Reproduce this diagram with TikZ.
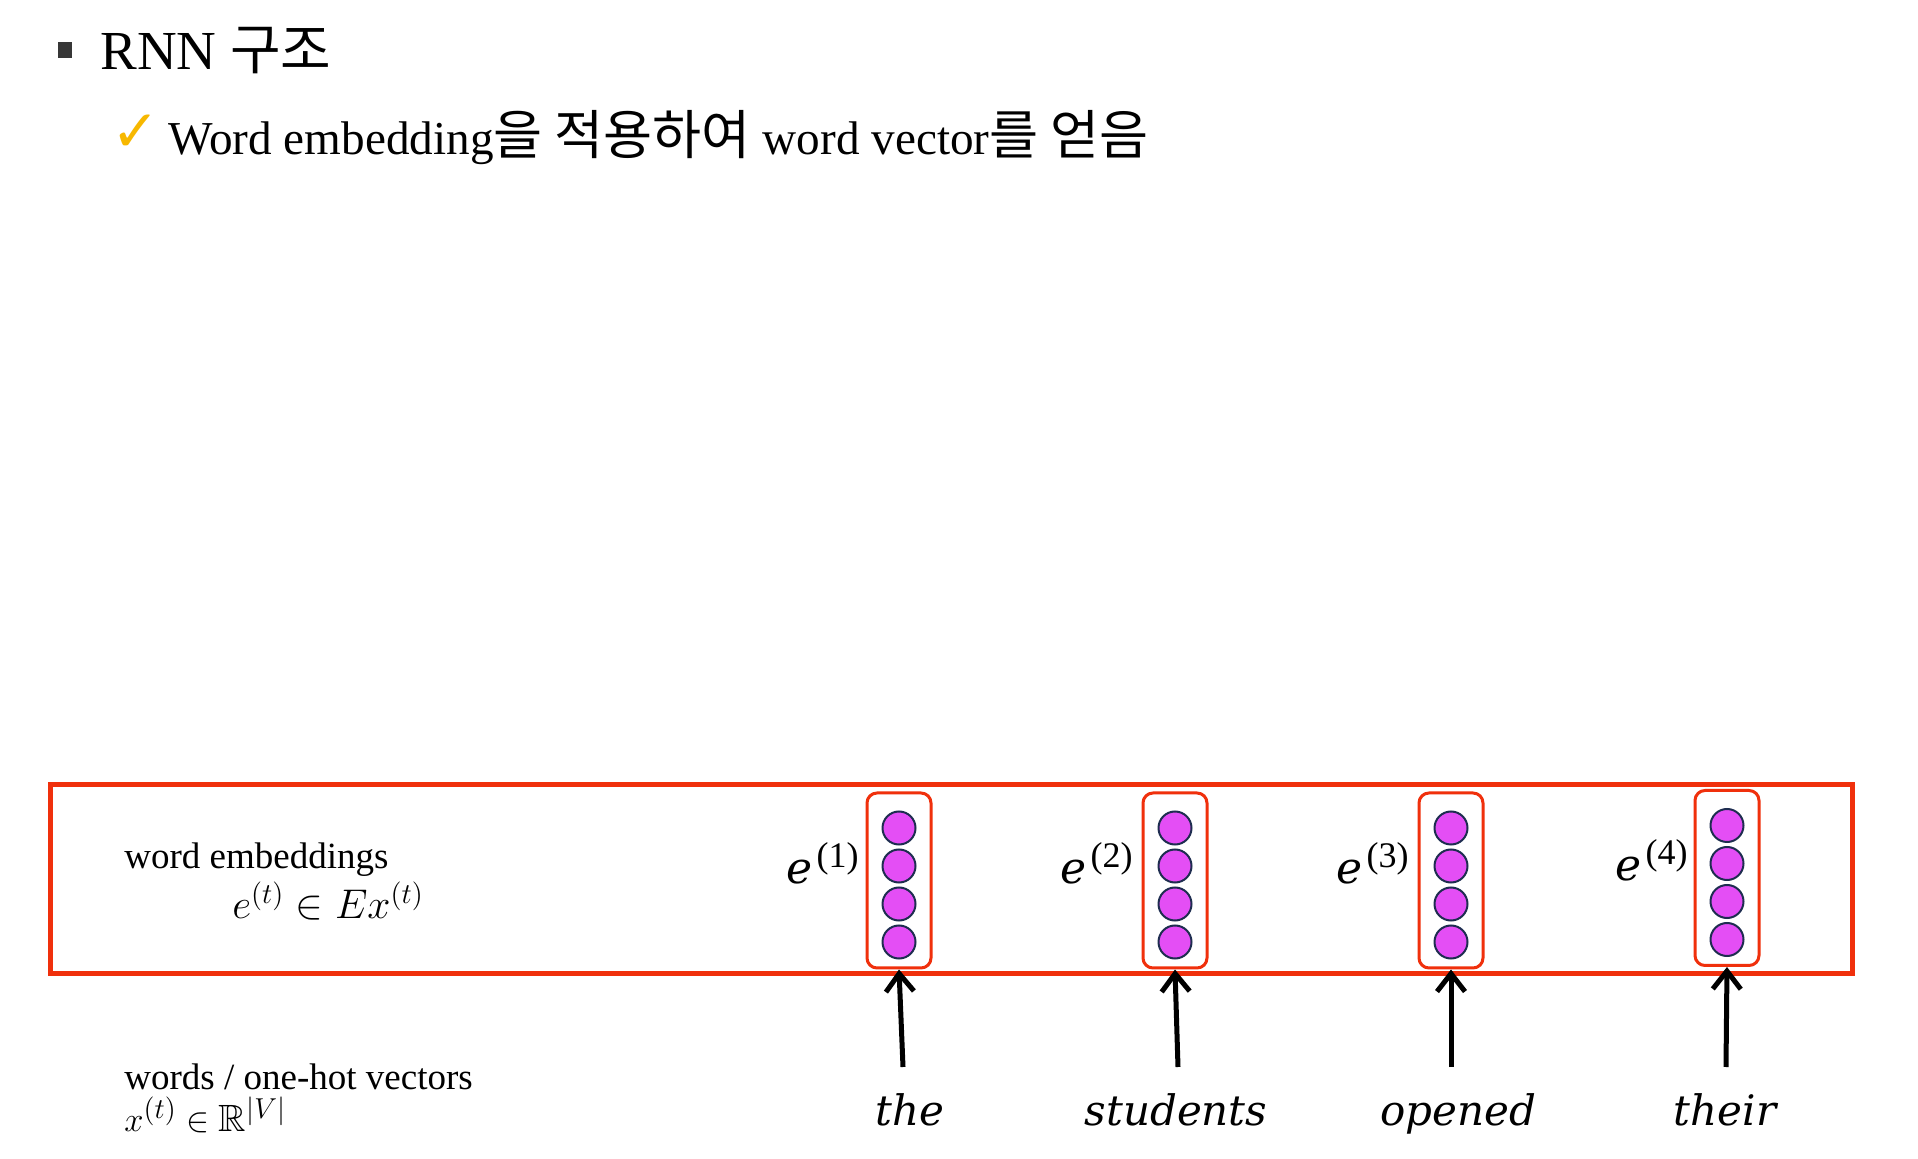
\documentclass[tikz,border=0pt]{standalone}
\usepackage{amssymb}
\usepackage{fontspec}
\setmainfont{Liberation Serif}
\newfontfamily\kr{Noto Sans CJK KR}
\newfontfamily\krbig[Scale=1.13]{Noto Sans CJK KR}
\newfontfamily\sym{DejaVu Sans}
\newfontfamily\dvs{DejaVu Serif}
\usetikzlibrary{arrows.meta}
\definecolor{boxred}{RGB}{240,48,12}
\definecolor{unitfill}{RGB}{228,78,245}
\definecolor{unitline}{RGB}{30,45,80}
\definecolor{checkgold}{RGB}{247,184,0}
\definecolor{bulletgrey}{RGB}{55,55,55}
\newcommand{\elab}[1]{{\dvs\itshape e}\hspace{2pt}\raisebox{8pt}{\fontsize{18}{20}\selectfont (#1)}}
\tikzset{
  bigbox/.style={draw=boxred, line width=2.5pt, minimum width=901pt, minimum height=94.5pt, inner sep=0pt},
  cellbox/.style={draw=boxred, line width=1.5pt, rounded corners=5pt, minimum width=32pt, minimum height=87.5pt, inner sep=0pt},
  unit/.style={circle, draw=unitline, fill=unitfill, line width=1pt, minimum size=16.5pt, inner sep=0pt},
  inarrow/.style={-{Straight Barb[length=9pt,width=14pt,line width=2.5pt]}, line width=2.5pt, black},
  elabel/.style={anchor=base east, font=\fontsize{22}{26}\selectfont, inner sep=0pt},
  wordlabel/.style={anchor=base, font=\dvs\itshape\fontsize{21}{26}\selectfont, inner sep=0pt},
  sidelabel/.style={anchor=base west, font=\fontsize{18.5}{22}\selectfont, inner sep=0pt},
}
\begin{document}
\begin{tikzpicture}[x=0.5pt,y=-0.5pt]
\useasboundingbox[fill=white] (0,0) rectangle (1918,1159);

% heading
\node[fill=bulletgrey, minimum width=7pt, minimum height=8pt, inner sep=0pt] (bul) at (65,50) {};
\node[anchor=base west, inner sep=0pt, font=\fontsize{27.5}{32}\selectfont] (title) at (100,70) {RNN {\kr 구조}};
\node[inner sep=0pt, text=checkgold, font=\sym\fontsize{29}{32}\selectfont] (chk) at (136,133) {✓};
\node[anchor=base west, inner sep=0pt, font=\fontsize{23.6}{28}\selectfont] (sub) at (168,155) {Word embedding{\krbig 을 적용하여} word vector{\krbig 를 얻음}};

% big box
\node[bigbox] (big) at (951,879.5) {};

% side labels
\node[sidelabel] (we) at (124,869) {word embeddings};
\node[sidelabel, font=\fontsize{20}{22}\selectfont] (weq) at (232,919) {$e^{(t)}\in Ex^{(t)}$};
\node[sidelabel] (wo) at (124,1089) {words / one-hot vectors};
\node[sidelabel, font=\fontsize{19}{22}\selectfont] (woq) at (124,1131) {$x^{(t)}\in \mathbb{R}^{|V|}$};

% columns
\foreach \i/\x/\yc/\word/\wx/\ex/\ey/\ax in {1/899/880.5/the/910/859/884/903, 2/1175/880.5/students/1176/1133/884/1178, 3/1451/880.5/opened/1458/1409/884/1451, 4/1727/878/their/1725/1688/881/1726}{
  \node[cellbox] (c\i) at (\x,\yc) {};
  \node[unit] (u\i a) at (\x,\yc-52.5) {};
  \node[unit] (u\i b) at (\x,\yc-14.5) {};
  \node[unit] (u\i c) at (\x,\yc+23.5) {};
  \node[unit] (u\i d) at (\x,\yc+61.5) {};
  \node[elabel] (e\i) at (\ex,\ey) {\elab{\i}};
  \node[wordlabel] (w\i) at (\wx,1125) {\word};
  \coordinate (a\i) at (\ax,1067);
  \draw[inarrow] (a\i) -- (c\i.south);
}
\end{tikzpicture}
\end{document}
